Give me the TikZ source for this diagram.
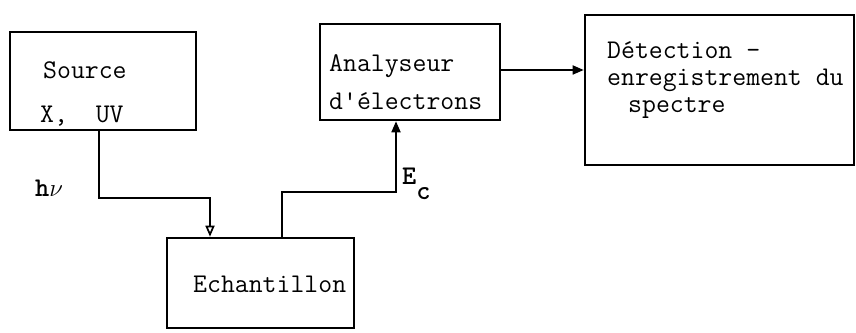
\documentclass[tikz,border=0pt]{standalone}
\usetikzlibrary{arrows.meta}
\tikzset{x=1pt, y=1pt,
box/.style={ % Sets the properties for each block
draw,
line width=2.6pt,
inner sep=0pt},
txt/.style={ % Typewriter text inside the blocks
anchor=base west,
inner sep=0pt,
font=\ttfamily\fontsize{27}{30}\selectfont},
conn/.style={ % Sets the properties for each connector
draw,
line width=1.7pt,
-{Triangle[length=11pt,width=9pt]}}}
\begin{document}
\begin{tikzpicture}
\useasboundingbox (0,0) rectangle (856,332);
\node[box, minimum width=186, minimum height=98] (src) at (103,251) {};
\node[box, minimum width=180, minimum height=96] (ana) at (410,260) {};
\node[box, minimum width=269, minimum height=150] (det) at (719.5,242) {};
\node[box, minimum width=187, minimum height=90] (ech) at (260.5,49) {};
\node[txt] (src1) at (43,253) {Source};
\node[txt] (src2) at (40,209) {X,\ \ UV};
\node[txt] (ana1) at (329,260) {Analyseur};
\node[txt] (ana2) at (329,222) {d'électrons};
\node[txt, text depth=0pt] (det1) at (607,273) {Détection -};
\node[txt] (det2) at (607,246) {enregistrement du};
\node[txt] (det3) at (628,219) {spectre};
\node[txt] (ech1) at (193,40) {Echantillon};
\node[txt] (hv) at (35,135) {\bfseries h$\nu$};
\node[txt] (ec) at (402,147) {\bfseries E\raisebox{-15pt}{c}};
\coordinate (k1) at (210,134);
\coordinate (k2) at (396,140);
\draw[conn, -{Triangle[open, length=11pt, width=9pt]}] ([xshift=-4pt]src.south) |- (k1) -- (k1 |- ech.north);
\draw[conn] ([xshift=21.5pt]ech.north) |- (k2) -- (k2 |- ana.south);
\draw[conn] ([yshift=2pt]ana.east) -- ([yshift=2pt]ana.east -| det.west);
\end{tikzpicture}
\end{document}
